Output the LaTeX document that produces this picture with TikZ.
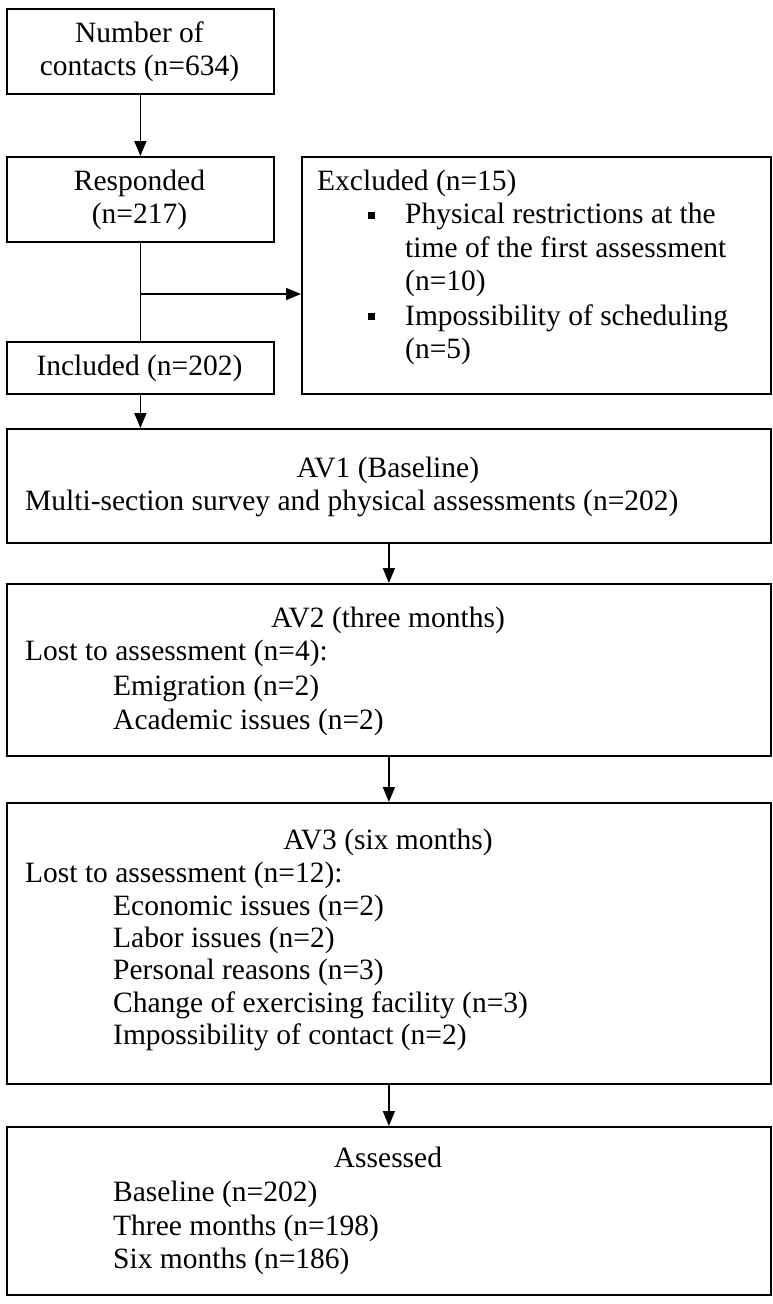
\documentclass[tikz,border=0pt]{standalone}
\usepackage{fontspec}
\setmainfont{Liberation Serif}
\usetikzlibrary{arrows.meta}
\begin{document}
\begin{tikzpicture}[x=1pt,y=-1pt,
  box/.style={draw, line width=1.8pt, inner sep=0pt, anchor=north west},
  txt/.style={inner sep=0pt, anchor=base west, font=\fontsize{29.5}{33}\selectfont},
  ctxt/.style={inner sep=0pt, anchor=base, font=\fontsize{29.5}{33}\selectfont},
  sq/.style={fill, inner sep=0pt, minimum size=7pt},
  arr/.style={line width=1.6pt, -{Triangle[length=15pt,width=12pt]}},
  ln/.style={line width=1.6pt}]
\useasboundingbox (0,0) rectangle (772,1304);
% boxes
\node[box, minimum width=267pt, minimum height=85pt] (A) at (6,8) {};
\node[box, minimum width=267pt, minimum height=85pt] (B) at (6,156) {};
\node[box, minimum width=267pt, minimum height=52pt] (C) at (6,341) {};
\node[box, minimum width=469pt, minimum height=237pt] (E) at (301,156) {};
\node[box, minimum width=764pt, minimum height=114pt] (AV1) at (6,428) {};
\node[box, minimum width=764pt, minimum height=172pt] (AV2) at (6,583) {};
\node[box, minimum width=764pt, minimum height=281pt] (AV3) at (6,802) {};
\node[box, minimum width=764pt, minimum height=168pt] (AS) at (6,1126) {};
% connectors
\draw[arr] (A.south) -- (B.north);
\draw[ln] (B.south) -- (C.north);
\coordinate (J) at (139.5,294);
\draw[arr] (J) -- (J -| E.west);
\draw[arr] (C.south) -- (C.south |- AV1.north);
\draw[arr] (AV1.south) -- (AV2.north);
\draw[arr] (AV2.south) -- (AV3.north);
\draw[arr] (AV3.south) -- (AS.north);
% texts top left
\node[ctxt] (a1) at (139.5,42) {Number of};
\node[ctxt] (a2) at (139.5,75) {contacts (n=634)};
\node[ctxt] (b1) at (139.5,190) {Responded};
\node[ctxt] (b2) at (139.5,223) {(n=217)};
\node[ctxt] (c1) at (139.5,375) {Included (n=202)};
% excluded
\node[txt] (e0) at (317,190) {Excluded (n=15)};
\node[sq] (s1) at (371,215) {};
\node[txt] (e1) at (405,223) {Physical restrictions at the};
\node[txt] (e2) at (405,257) {time of the first assessment};
\node[txt] (e3) at (405,290) {(n=10)};
\node[sq] (s2) at (371,316) {};
\node[txt] (e4) at (405,325) {Impossibility of scheduling};
\node[txt] (e5) at (405,358) {(n=5)};
% AV1
\node[ctxt] (v1t) at (388,477) {AV1 (Baseline)};
\node[txt] (v1a) at (25,510) {Multi-section survey and physical assessments (n=202)};
% AV2
\node[ctxt] (v2t) at (388,627) {AV2 (three months)};
\node[txt] (v2a) at (25,660) {Lost to assessment (n=4):};
\node[txt] (v2b) at (113,695) {Emigration (n=2)};
\node[txt] (v2c) at (113,729) {Academic issues (n=2)};
% AV3
\node[ctxt] (v3t) at (388,849) {AV3 (six months)};
\node[txt] (v3a) at (25,882) {Lost to assessment (n=12):};
\node[txt] (v3b) at (113,915) {Economic issues (n=2)};
\node[txt] (v3c) at (113,947) {Labor issues (n=2)};
\node[txt] (v3d) at (113,979) {Personal reasons (n=3)};
\node[txt] (v3e) at (113,1012) {Change of exercising facility (n=3)};
\node[txt] (v3f) at (113,1044) {Impossibility of contact (n=2)};
% Assessed
\node[ctxt] (ast) at (388,1167) {Assessed};
\node[txt] (asa) at (113,1201) {Baseline (n=202)};
\node[txt] (asb) at (113,1235) {Three months (n=198)};
\node[txt] (asc) at (113,1268) {Six months (n=186)};
\end{tikzpicture}
\end{document}
